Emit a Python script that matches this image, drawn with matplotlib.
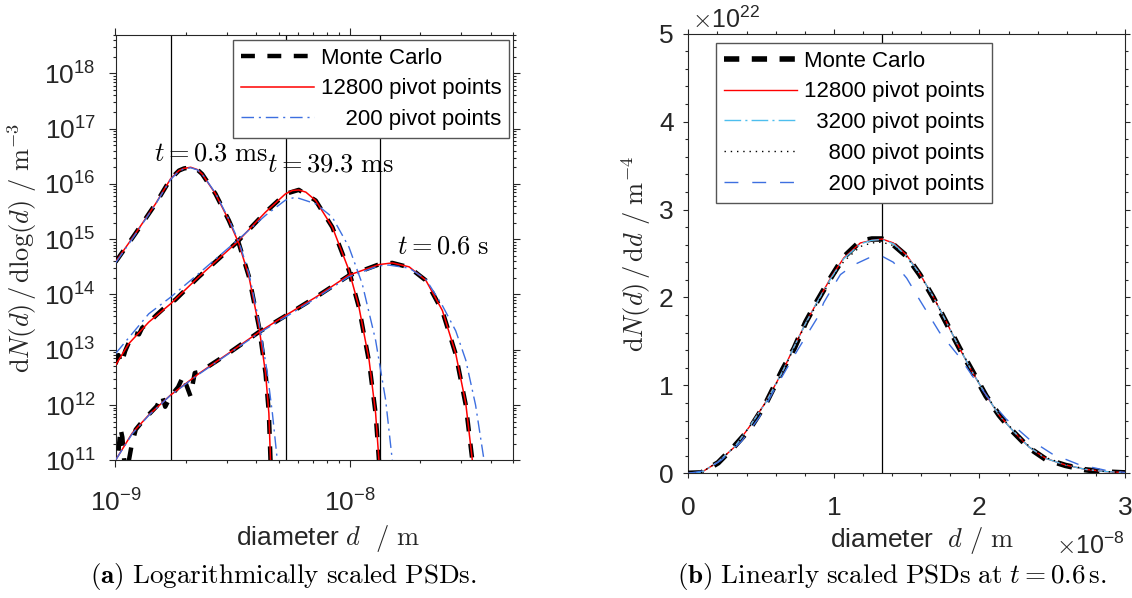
import matplotlib
matplotlib.use("Agg")
import matplotlib.pyplot as plt
from matplotlib.ticker import (LogLocator, MultipleLocator, NullFormatter,
                               FixedLocator, FixedFormatter)

plt.rcParams['font.family'] = ['Liberation Sans', 'DejaVu Sans']
plt.rcParams['mathtext.fontset'] = 'cm'
plt.rcParams['lines.scale_dashes'] = False

# ---------------- panel (a): log-scaled PSDs ----------------
# t = 0.3 ms
d_a1 = [1.000e-9, 1.216e-9, 1.483e-9, 1.718e-9, 1.866e-9, 1.959e-9, 2.094e-9, 2.234e-9,
        2.344e-9, 2.673e-9, 3.048e-9, 3.365e-9, 3.715e-9, 4.102e-9, 4.375e-9, 4.519e-9,
        4.592e-9, 4.634e-9]
mc_a1 = [3.86e14, 1.26e15, 4.37e15, 1.23e16, 1.74e16, 1.90e16, 2.00e16, 1.82e16,
         1.51e16, 6.61e15, 2.19e15, 8.32e14, 2.09e14, 2.57e13, 3.72e12, 7.08e11,
         1.0e11, 3.2e10]
red_a1 = [3.86e14, 1.26e15, 4.37e15, 1.23e16, 1.74e16, 1.905e16, 2.00e16, 1.82e16,
          1.51e16, 6.61e15, 2.19e15, 8.32e14, 2.09e14, 2.57e13, 3.72e12, 7.08e11,
          1.0e11, 3.2e10]
d_b1 = [1.000e-9, 1.216e-9, 1.483e-9, 1.718e-9, 1.866e-9, 1.959e-9, 2.094e-9, 2.234e-9,
        2.344e-9, 2.673e-9, 3.048e-9, 3.365e-9, 3.715e-9, 4.102e-9, 4.45e-9, 4.68e-9,
        4.91e-9, 4.98e-9]
blue_a1 = [3.7e14, 1.22e15, 4.3e15, 1.2e16, 1.70e16, 1.87e16, 1.96e16, 1.80e16,
           1.52e16, 6.8e15, 2.3e15, 9.0e14, 2.4e14, 3.2e13, 3.8e12, 7.0e11, 1.0e11, 3e10]

# t = 39.3 ms
d_a2 = [1.000e-9, 1.140e-9, 1.387e-9, 1.718e-9, 2.270e-9, 3.311e-9, 4.375e-9, 5.321e-9,
        5.70e-9, 6.067e-9, 6.50e-9, 7.161e-9, 8.433e-9, 9.931e-9, 1.096e-8, 1.211e-8,
        1.291e-8, 1.334e-8, 1.349e-8]
red_a2 = [5.25e12, 1.29e13, 3.16e13, 6.76e13, 2.09e14, 8.91e14, 3.09e15, 6.61e15,
          7.6e15, 7.76e15, 7.1e15, 5.01e15, 1.66e15, 2.75e14, 5.89e13, 6.46e12,
          7.08e11, 1.0e11, 3.2e10]
d_m2 = [1.000e-9, 1.03e-9, 1.06e-9, 1.10e-9, 1.140e-9, 1.20e-9, 1.26e-9, 1.30e-9,
        1.387e-9, 1.50e-9, 1.60e-9, 1.718e-9, 1.80e-9, 2.270e-9, 3.311e-9, 4.375e-9,
        5.321e-9, 6.067e-9, 7.161e-9, 8.433e-9, 9.931e-9, 1.096e-8, 1.211e-8, 1.291e-8,
        1.334e-8, 1.349e-8]
mc_a2 = [5.5e12, 8.0e12, 5.6e12, 9.5e12, 1.35e13, 2.0e13, 1.9e13, 2.5e13,
         3.1e13, 4.3e13, 5.5e13, 7.0e13, 8.0e13, 2.09e14, 8.9e14, 3.08e15,
         6.6e15, 7.8e15, 5.0e15, 1.65e15, 2.7e14, 5.8e13, 6.0e12, 7.0e11,
         1.0e11, 3e10]
d_b2 = [1.000e-9, 1.387e-9, 1.718e-9, 2.270e-9, 3.311e-9, 4.375e-9, 5.321e-9, 5.87e-9,
        7.161e-9, 8.433e-9, 9.931e-9, 1.132e-8, 1.291e-8, 1.425e-8, 1.521e-8, 1.55e-8]
blue_a2 = [8.5e12, 4.47e13, 8.9e13, 2.4e14, 9.5e14, 2.7e15, 5.1e15, 5.75e15,
           4.37e15, 2.5e15, 7.2e14, 1.55e14, 1.48e13, 1.23e12, 1.0e11, 3e10]

# t = 0.6 s
d_a3 = [1.000e-9, 1.178e-9, 1.387e-9, 1.718e-9, 2.270e-9, 3.048e-9, 4.102e-9, 5.321e-9,
        7.161e-9, 9.931e-9, 1.334e-8, 1.521e-8, 1.795e-8, 2.113e-8, 2.489e-8, 2.838e-8,
        3.133e-8, 3.342e-8, 3.38e-8]
red_a3 = [1.0e11, 3.09e11, 6.61e11, 1.51e12, 3.7e12, 8.7e12, 2.09e13, 4.17e13,
          8.91e13, 2.24e14, 3.47e14, 3.72e14, 3.16e14, 1.82e14, 5.13e13, 8.51e12,
          1.07e12, 1.0e11, 3.2e10]
d_m3 = [1.00e-9, 1.02e-9, 1.05e-9, 1.07e-9, 1.10e-9, 1.13e-9, 1.17e-9, 1.22e-9,
        1.30e-9, 1.40e-9, 1.50e-9, 1.58e-9, 1.63e-9, 1.72e-9, 1.85e-9, 1.95e-9,
        2.00e-9, 2.09e-9, 2.18e-9, 2.30e-9, 3.048e-9, 4.102e-9, 5.321e-9, 7.161e-9,
        9.931e-9, 1.334e-8, 1.521e-8, 1.795e-8, 2.113e-8, 2.489e-8, 2.838e-8, 3.133e-8,
        3.342e-8, 3.38e-8]
mc_a3 = [5e10, 9e10, 3.8e11, 2.6e11, 6e10, 8e10, 1.8e11, 3.6e11,
         5.0e11, 7.0e11, 9.5e11, 1.5e12, 9.3e11, 1.45e12, 2.1e12, 3.4e12,
         2.4e12, 1.45e12, 3.8e12, 4.0e12, 8.7e12, 2.1e13, 4.1e13, 8.9e13,
         2.2e14, 3.5e14, 3.72e14, 3.1e14, 1.8e14, 5.0e13, 8.3e12, 1.0e12,
         1.0e11, 3e10]
d_b3 = [1.000e-9, 1.178e-9, 1.387e-9, 1.718e-9, 2.270e-9, 3.048e-9, 4.102e-9, 5.321e-9,
        7.161e-9, 9.931e-9, 1.334e-8, 1.47e-8, 1.795e-8, 2.113e-8, 2.489e-8, 2.838e-8,
        3.133e-8, 3.45e-8, 3.75e-8, 3.80e-8]
blue_a3 = [1.0e11, 3.0e11, 6.5e11, 1.5e12, 3.6e12, 8.5e12, 2.0e13, 3.9e13,
           8.5e13, 2.1e14, 3.3e14, 3.4e14, 3.0e14, 1.9e14, 6.3e13, 2.2e13,
           6.5e12, 1.0e12, 1.0e11, 3e10]

vlines_a = [1.72e-9, 5.33e-9, 1.345e-8]
time_labels = [r'$t = 0.3\ \mathrm{ms}$', r'$t = 39.3\ \mathrm{ms}$', r'$t = 0.6\ \mathrm{s}$']
time_label_pos = [(2.56e-9, 3.6e16), (8.3e-9, 2.2e16), (2.5e-8, 7.4e14)]
xt_a = [1e-9, 1e-8]

# ---------------- panel (b): linear PSDs at t = 0.6 s ----------------
d_b = [0, 0.09e-8, 0.205e-8, 0.318e-8, 0.42e-8, 0.534e-8, 0.648e-8, 0.727e-8, 0.807e-8,
       0.886e-8, 0.977e-8, 1.068e-8, 1.182e-8, 1.261e-8, 1.33e-8, 1.409e-8, 1.5e-8,
       1.59e-8, 1.682e-8, 1.773e-8, 1.864e-8, 1.955e-8, 2.045e-8, 2.136e-8, 2.227e-8,
       2.34e-8, 2.455e-8, 2.59e-8, 2.727e-8, 2.864e-8, 3.0e-8]
mc_b = [0, 0.005e22, 0.12e22, 0.31e22, 0.50e22, 0.80e22, 1.18e22, 1.42e22, 1.72e22,
        1.96e22, 2.22e22, 2.46e22, 2.64e22, 2.665e22, 2.665e22, 2.60e22, 2.47e22,
        2.26e22, 2.00e22, 1.71e22, 1.42e22, 1.15e22, 0.88e22, 0.66e22, 0.48e22,
        0.29e22, 0.16e22, 0.09e22, 0.04e22, 0.015e22, 0.005e22]
p12800_b = [0, 0.01e22, 0.13e22, 0.30e22, 0.53e22, 0.815e22, 1.16e22, 1.44e22, 1.71e22,
            1.95e22, 2.22e22, 2.45e22, 2.62e22, 2.65e22, 2.665e22, 2.62e22, 2.48e22,
            2.27e22, 2.01e22, 1.72e22, 1.42e22, 1.14e22, 0.89e22, 0.66e22, 0.49e22,
            0.30e22, 0.17e22, 0.095e22, 0.045e22, 0.02e22, 0.008e22]
p3200_b = [0, 0.01e22, 0.13e22, 0.30e22, 0.53e22, 0.81e22, 1.16e22, 1.44e22, 1.71e22,
           1.95e22, 2.21e22, 2.44e22, 2.61e22, 2.65e22, 2.66e22, 2.61e22, 2.47e22,
           2.27e22, 2.01e22, 1.72e22, 1.42e22, 1.14e22, 0.89e22, 0.66e22, 0.49e22,
           0.30e22, 0.17e22, 0.095e22, 0.045e22, 0.02e22, 0.008e22]
p800_b = [0, 0.01e22, 0.13e22, 0.30e22, 0.53e22, 0.81e22, 1.15e22, 1.43e22, 1.70e22,
          1.93e22, 2.19e22, 2.41e22, 2.58e22, 2.62e22, 2.63e22, 2.59e22, 2.46e22,
          2.26e22, 2.01e22, 1.72e22, 1.43e22, 1.15e22, 0.90e22, 0.67e22, 0.50e22,
          0.31e22, 0.18e22, 0.10e22, 0.05e22, 0.02e22, 0.008e22]
d_b200 = [0, 0.114e-8, 0.227e-8, 0.364e-8, 0.489e-8, 0.591e-8, 0.75e-8, 0.898e-8, 0.93e-8,
          0.99e-8, 1.045e-8, 1.136e-8, 1.24e-8, 1.33e-8, 1.409e-8, 1.5e-8, 1.59e-8,
          1.727e-8, 1.864e-8, 1.955e-8, 2.068e-8, 2.182e-8, 2.34e-8, 2.5e-8, 2.682e-8,
          2.864e-8, 3.0e-8]
p200_b = [0, 0.03e22, 0.15e22, 0.36e22, 0.64e22, 0.95e22, 1.40e22, 1.80e22, 1.94e22,
          2.11e22, 2.26e22, 2.37e22, 2.45e22, 2.47e22, 2.40e22, 2.22e22, 1.97e22,
          1.60e22, 1.32e22, 1.10e22, 0.84e22, 0.62e22, 0.39e22, 0.22e22, 0.10e22,
          0.035e22, 0.01e22]
vline_b = 1.33e-8

legend_a = ['Monte Carlo', '12800 pivot points', '    200 pivot points']
legend_b = ['Monte Carlo', '12800 pivot points', '  3200 pivot points',
            '    800 pivot points', '    200 pivot points']

xt_b = [0, 1e-8, 2e-8, 3e-8]
xt_b_lab = ['0', '1', '2', '3']
yt_b = [0, 1e22, 2e22, 3e22, 4e22, 5e22]
yt_b_lab = ['0', '1', '2', '3', '4', '5']

# ---------------- styles ----------------
AXC = '#262626'
RED = '#ff0000'
BLUE = '#3d6fe0'
LBLUE = '#4dbeee'
MC_DASH = (0, (10, 9))
DASHDOT = (0, (9, 3.5, 1.5, 3.5))

W, H = 1132, 598
fig = plt.figure(figsize=(W / 100, H / 100), dpi=100)


def rect(l, r, t, b):
    return [l / W, 1 - b / H, (r - l) / W, (b - t) / H]


ax1 = fig.add_axes(rect(115.5, 513.3, 34.7, 460.3))
ax2 = fig.add_axes(rect(688.3, 1125.0, 33.7, 473.3))

# ----- panel (a)
for v in vlines_a:
    ax1.axvline(v, color='k', lw=0.9, zorder=1)
sets = [(d_a1, mc_a1, d_a1, red_a1, d_b1, blue_a1),
        (d_m2, mc_a2, d_a2, red_a2, d_b2, blue_a2),
        (d_m3, mc_a3, d_a3, red_a3, d_b3, blue_a3)]
for i, (dm, m, dr, r, db, b) in enumerate(sets):
    ax1.plot(dm, m, color='k', lw=3.2, linestyle=MC_DASH,
             label=legend_a[0] if i == 0 else None, zorder=3)
    ax1.plot(dr, r, color=RED, lw=1.1, label=legend_a[1] if i == 0 else None, zorder=4)
    ax1.plot(db, b, color=BLUE, lw=1.0, linestyle=DASHDOT,
             label=legend_a[2] if i == 0 else None, zorder=5)
for s, (x, y) in zip(time_labels, time_label_pos):
    ax1.text(x, y, s, fontsize=19, ha='center', va='center', color='k', zorder=6)

ax1.set_xscale('log')
ax1.set_yscale('log')
ax1.set_xlim(1e-9, 5e-8)
ax1.set_ylim(1e11, 5e18)
ax1.xaxis.set_major_locator(FixedLocator(xt_a))
ax1.xaxis.set_minor_locator(LogLocator(base=10, subs=range(2, 10), numticks=20))
ax1.yaxis.set_major_locator(LogLocator(base=10, numticks=20))
ax1.yaxis.set_minor_locator(LogLocator(base=10, subs=range(2, 10), numticks=40))
ax1.xaxis.set_minor_formatter(NullFormatter())
ax1.yaxis.set_minor_formatter(NullFormatter())
ax1.tick_params(which='both', direction='out', top=True, right=True,
                color=AXC, labelcolor=AXC, width=0.8)
ax1.tick_params(which='major', length=5.2, labelsize=19)
ax1.tick_params(which='minor', length=2.5)
ax1.tick_params(axis='x', which='major', pad=16)
ax1.tick_params(axis='y', which='major', pad=9)

leg1 = ax1.legend(loc='upper right', bbox_to_anchor=(0.989, 0.988), borderaxespad=0,
                  fontsize=16, handlelength=3.3, handletextpad=0.3, labelspacing=0.44,
                  borderpad=0.35, fancybox=False, framealpha=1, edgecolor='#555555')
leg1.get_frame().set_linewidth(1.0)

# ----- panel (b)
ax2.axvline(vline_b, color='k', lw=0.9, zorder=1)
ax2.plot(d_b, mc_b, color='k', lw=4.0, linestyle=(0, (11, 9)), label=legend_b[0], zorder=3)
ax2.plot(d_b, p12800_b, color=RED, lw=1.0, label=legend_b[1], zorder=4)
ax2.plot(d_b, p3200_b, color=LBLUE, lw=1.0, linestyle=(0, (12, 3, 1.5, 3)),
         label=legend_b[2], zorder=5)
ax2.plot(d_b, p800_b, color='k', lw=1.0, linestyle=(0, (1, 3.5)), label=legend_b[3], zorder=6)
ax2.plot(d_b200, p200_b, color=BLUE, lw=1.0, linestyle=(0, (10, 10)),
         label=legend_b[4], zorder=7)

ax2.set_xlim(0, 3e-8)
ax2.set_ylim(0, 5e22)
ax2.xaxis.set_major_locator(FixedLocator(xt_b))
ax2.xaxis.set_major_formatter(FixedFormatter(xt_b_lab))
ax2.yaxis.set_major_locator(FixedLocator(yt_b))
ax2.yaxis.set_major_formatter(FixedFormatter(yt_b_lab))
ax2.xaxis.set_minor_locator(MultipleLocator(0.2e-8))
ax2.yaxis.set_minor_locator(MultipleLocator(0.2e22))
ax2.tick_params(which='both', direction='out', top=True, right=True,
                color=AXC, labelcolor=AXC, width=0.8)
ax2.tick_params(which='major', length=3.6, labelsize=19)
ax2.tick_params(which='minor', length=2.0)
ax2.tick_params(axis='x', which='major', pad=13)
ax2.tick_params(axis='y', which='major', pad=7)

leg2 = ax2.legend(loc='upper left', bbox_to_anchor=(0.064, 0.979), borderaxespad=0,
                  fontsize=16, handlelength=3.3, handletextpad=0.3, labelspacing=0.44,
                  borderpad=0.35, fancybox=False, framealpha=1, edgecolor='#555555')
leg2.get_frame().set_linewidth(1.0)

for ax in (ax1, ax2):
    for sp in ax.spines.values():
        sp.set_color(AXC)
        sp.set_linewidth(0.8)

# ----- labels, offsets, captions
fig.text(22 / W, 1 - 247.5 / H,
         r'$\mathrm{d}N(d)\,/\,\mathrm{dlog}(d)\ /\ \mathrm{m}^{-3}$',
         rotation=90, ha='center', va='center', fontsize=19, color=AXC)
fig.text(328 / W, 1 - 539 / H, r'diameter $d\ \ /\ \mathrm{m}$',
         ha='center', va='center', fontsize=19, color=AXC)
fig.text(636 / W, 1 - 254 / H,
         r'$\mathrm{d}N(d)\,/\,\mathrm{d}d\ /\ \mathrm{m}^{-4}$',
         rotation=90, ha='center', va='center', fontsize=19, color=AXC)
fig.text(922 / W, 1 - 541 / H, r'diameter $\ d\ /\ \mathrm{m}$',
         ha='center', va='center', fontsize=19, color=AXC)
fig.text(692 / W, 1 - 20 / H, r'$\times\mathdefault{10^{22}}$',
         ha='left', va='center', fontsize=18, color=AXC)
fig.text(1125 / W, 1 - 546 / H, r'$\times\mathdefault{10^{-8}}$',
         ha='right', va='center', fontsize=18, color=AXC)
fig.text(283 / W, 1 - 577 / H,
         r'$\mathbf{(a)}\ \mathrm{Logarithmically\ scaled\ PSDs.}$',
         ha='center', va='center', fontsize=19.5, color='k')
fig.text(892 / W, 1 - 577 / H,
         r'$\mathbf{(b)}\ \mathrm{Linearly\ scaled\ PSDs\ at\ }t=0.6\,\mathrm{s.}$',
         ha='center', va='center', fontsize=19.5, color='k')

fig.savefig('out.png', dpi=100)
